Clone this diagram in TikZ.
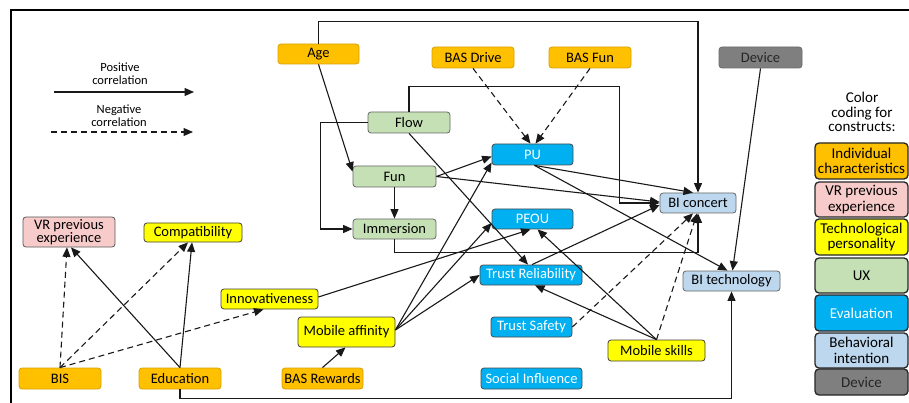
\documentclass[tikz,border=0pt]{standalone}
\usepackage{fontspec}
\setmainfont{Carlito}
\usetikzlibrary{arrows.meta,calc}
\definecolor{corange}{HTML}{FFC000}
\definecolor{corangeD}{HTML}{D9A000}
\definecolor{cyellow}{HTML}{FFFF00}
\definecolor{cpink}{HTML}{F8CBCB}
\definecolor{cgreen}{HTML}{C5E0B4}
\definecolor{cblue}{HTML}{00B0F0}
\definecolor{clblue}{HTML}{BDD7EE}
\definecolor{cgray}{HTML}{7F7F7F}
\begin{document}
\begin{tikzpicture}[x=1pt,y=-1pt,
  nb/.style={rectangle, rounded corners=3pt, line width=0.8pt, inner sep=0pt, align=center,
    font=\fontsize{14.5}{13.5}\selectfont},
  orangebox/.style={nb, fill=corange, draw=corangeD},
  yellowbox/.style={nb, fill=cyellow, draw=black!75},
  pinkbox/.style={nb, fill=cpink, draw=black!65},
  greenbox/.style={nb, fill=cgreen, draw=black!60},
  bluebox/.style={nb, fill=cblue, draw=black!70, text=white},
  lbluebox/.style={nb, fill=clblue, draw=black!60},
  graybox/.style={nb, fill=cgray, draw=cgray!85!black, text=black!85},
  legbox/.style={rectangle, rounded corners=4pt, line width=1.3pt, draw=black!85, inner sep=0pt,
    align=center, minimum width=93pt, font=\fontsize{15}{15.5}\selectfont},
  arr/.style={line width=1.1pt, draw=black!90, -{Triangle[length=9.5pt,width=8pt]}},
  darr/.style={arr, dash pattern=on 6pt off 4pt},
  legtext/.style={align=center, inner sep=0pt, font=\fontsize{12.5}{13}\selectfont}
]
\useasboundingbox (0,0) rectangle (909,403);
% frame
\draw[line width=2pt] (11,403) -- (11,10) -- (909,10);

% legend of correlations
\node[legtext] (postext) at (120,74) {Positive\\correlation};
\node[legtext] (negtext) at (119,116) {Negative\\correlation};
\coordinate (p1) at (54,92); \coordinate (p2) at (194,92);
\coordinate (n1) at (51,132); \coordinate (n2) at (193,132);
\draw[arr] (p1) -- (p2);
\draw[darr] (n1) -- (n2);

% nodes
\node[orangebox, minimum width=81pt, minimum height=20pt] (age) at (318.5,54) {Age};
\node[orangebox, minimum width=82pt, minimum height=21pt] (basdrive) at (473,57.5) {BAS Drive};
\node[orangebox, minimum width=82pt, minimum height=21pt] (basfun) at (590,57.5) {BAS Fun};
\node[graybox, minimum width=83pt, minimum height=21pt] (device) at (760.5,57.5) {Device};
\node[greenbox, minimum width=82pt, minimum height=21pt] (flow) at (409,122.5) {Flow};
\node[greenbox, minimum width=83pt, minimum height=21pt] (fun) at (394.5,176.5) {Fun};
\node[greenbox, minimum width=83pt, minimum height=20pt] (imm) at (394.5,229) {Immersion};
\node[bluebox, minimum width=81pt, minimum height=21pt] (pu) at (532.5,154.5) {PU};
\node[bluebox, minimum width=81pt, minimum height=20pt] (peou) at (532.5,219) {PEOU};
\node[lbluebox, minimum width=76pt, minimum height=20pt] (bic) at (698,203) {BI concert};
\node[lbluebox, minimum width=97pt, minimum height=20pt] (bit) at (731.5,281) {BI technology};
\node[bluebox, minimum width=102pt, minimum height=20pt] (tr) at (531,275) {Trust Reliability};
\node[bluebox, minimum width=81pt, minimum height=20pt] (ts) at (531.5,327) {Trust Safety};
\node[yellowbox, minimum width=97pt, minimum height=21pt] (ms) at (656.5,350.5) {Mobile skills};
\node[bluebox, minimum width=101pt, minimum height=21pt] (si) at (531.5,378.5) {Social Influence};
\node[orangebox, minimum width=81pt, minimum height=21pt] (basrew) at (322.5,378.5) {BAS Rewards};
\node[orangebox, minimum width=82pt, minimum height=21pt] (edu) at (180,378.5) {Education};
\node[orangebox, minimum width=82pt, minimum height=21pt] (bis) at (60,378.5) {BIS};
\node[pinkbox, minimum width=92pt, minimum height=30pt] (vr) at (69,232) {VR previous\\experience};
\node[yellowbox, minimum width=98pt, minimum height=19pt] (comp) at (193,232.5) {Compatibility};
\node[yellowbox, minimum width=97pt, minimum height=20pt] (innov) at (269.5,299) {Innovativeness};
\node[yellowbox, minimum width=97pt, minimum height=30pt] (maff) at (346.5,332) {Mobile affinity};

% legend of colours
\node[align=center, inner sep=0pt, font=\fontsize{15}{14.5}\selectfont] (legtitle) at (862,112) {Color\\coding for\\constructs:};
\node[legbox, fill=corange, minimum height=36pt] (lind) at (861.5,161) {Individual\\characteristics};
\node[legbox, fill=cpink, minimum height=35pt] (lvr) at (861.5,199.5) {VR previous\\experience};
\node[legbox, fill=cyellow, minimum height=36pt] (ltech) at (861.5,237) {Technological\\personality};
\node[legbox, fill=cgreen, minimum height=35pt] (lux) at (861.5,275.5) {UX};
\node[legbox, fill=cblue, text=white, minimum height=36pt] (leval) at (861.5,313) {Evaluation};
\node[legbox, fill=clblue, minimum height=35pt] (lbeh) at (861.5,350.5) {Behavioral\\intention};
\node[legbox, fill=cgray, text=black!85, minimum height=26pt] (ldev) at (861.5,382) {Device};

% connectors
\draw[arr] (age.north) -- ++(0,-22) -| (bic.north);
\draw[arr] (age.south) -- ($(fun.north west)+(0,6)$);
\draw[darr] (basdrive.south) -- ($(pu.north)+(-2,0)$);
\draw[darr] (basfun.south) -- ($(pu.north)+(3,0)$);
\draw[arr] (flow.north) -- ++(0,-25) -| ($(bic.west)+(-40,0)$) -- (bic.west);
\draw[arr] (fun.east) -- ($(bic.west)+(0,-1)$);
\draw[arr] (fun.east) -- ($(pu.west)+(0,2)$);
\draw[arr] (flow.south) -- ($(tr.north)+(-3,0)$);
\draw[arr] (flow.west) -- ++(-47,0) |- (imm.west);
\draw[arr] (fun.south) -- (imm.north);
\draw[arr] (imm.south) -- ++(0,13) -| (bic.south);
\draw[arr] ($(pu.south)+(2,0)$) -- ($(bic.north)+(-5,0)$);
\draw[arr] ($(pu.south)+(2,0)$) -- ($(bit.north)+(-4,0)$);
\draw[arr] (device.south) -- ($(bit.north)+(1,0)$);
\draw[arr] ($(tr.north)+(1,0)$) -- ($(bic.west)+(0,2)$);
\draw[arr] ($(maff.east)+(0,-2)$) -- ($(pu.west)+(0,8)$);
\draw[arr] ($(maff.east)+(0,-2)$) -- ($(peou.west)+(0,4)$);
\draw[arr] ($(maff.east)+(0,-2)$) -- (tr.west);
\draw[arr] ($(innov.east)+(0,-2)$) -- ($(peou.south)+(-2,0)$);
\draw[arr] (ms.north) -- ($(peou.south)+(5,0)$);
\draw[arr] (ms.north) -- ($(tr.south)+(4,0)$);
\draw[darr] (ms.north) -- ($(bic.south)+(-1,0)$);
\draw[darr] (ts.east) -- ($(bic.south)+(-5,0)$);
\draw[arr] (basrew.north) -- ($(maff.south)+(-1,0)$);
\draw[arr] (edu.north) -- ($(vr.south)+(2,0)$);
\draw[arr] (edu.north) -- ($(comp.south)+(-1,0)$);
\draw[arr] (edu.south) -- ++(0,9) -| (bit.south);
\draw[darr] (bis.north) -- ($(vr.south)+(-2,0)$);
\draw[darr] (bis.north) -- ($(comp.south)+(-5,0)$);
\draw[darr] (bis.north) -- ($(innov.south)+(-6,0)$);
\end{tikzpicture}
\end{document}
